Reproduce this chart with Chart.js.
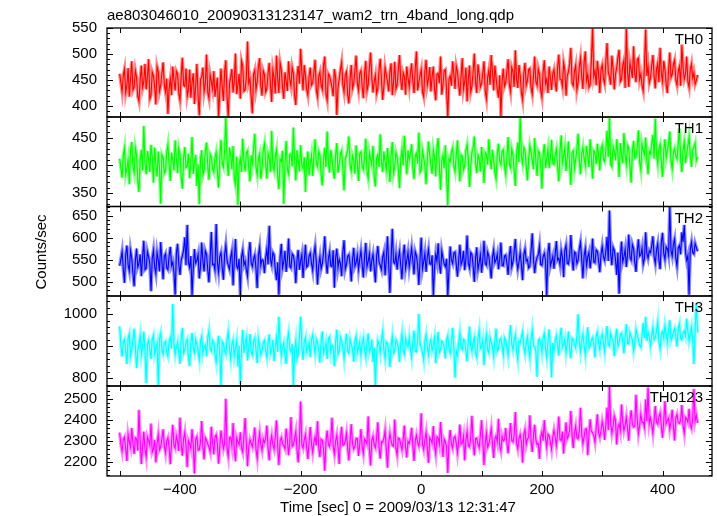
<!DOCTYPE html>
<html>
<head>
<meta charset="utf-8">
<script src="https://cdn.jsdelivr.net/npm/chart.js@4.4.1/dist/chart.umd.min.js"></script>
<style>
html, body { margin: 0; padding: 0; background: #fff; }
#wrap { position: relative; width: 717px; height: 516px; }
#wrap canvas { position: absolute; left: 0; top: 0; }
</style>
</head>
<body>
<div id="wrap">
<canvas id="c0" width="717" height="516"></canvas>
<canvas id="c1" width="717" height="516"></canvas>
<canvas id="c2" width="717" height="516"></canvas>
<canvas id="c3" width="717" height="516"></canvas>
<canvas id="c4" width="717" height="516"></canvas>
</div>
<script>
// time bins (sec from 2009/03/13 12:31:47)
const binStart = -500;
const binWidth = 2;

// count rates, one row = 40 bins (80 s)
const th0 = [
  462,445,428,459,471,426,440,473,418,452,486,431,437,468,455,419,409,450,478,436,447,481,432,457,490,414,421,465,458,437,403,476,466,428,439,462,484,441,427,453,
  385,434,452,421,476,449,430,467,462,425,411,458,493,440,438,472,419,431,470,416,445,463,404,439,481,420,382,451,456,474,428,443,499,426,415,460,447,433,467,418,
  436,455,381,428,472,437,410,466,488,419,379,442,455,471,426,448,501,423,440,462,414,487,478,429,431,456,524,444,452,418,386,461,469,432,447,475,492,439,420,468,
  461,427,433,462,483,441,408,469,455,424,497,452,425,483,470,436,414,465,448,429,486,451,439,474,463,420,402,458,477,443,510,466,430,479,458,432,421,456,474,440,
  444,466,489,431,418,457,465,440,432,478,495,423,411,462,458,447,436,419,471,455,383,436,452,470,484,441,427,460,466,422,405,451,479,434,443,468,497,445,430,463,
  468,439,415,462,487,430,441,473,503,454,426,447,459,424,434,469,491,451,412,437,474,460,448,428,466,482,421,445,485,433,440,471,498,449,431,464,457,422,476,455,
  437,463,482,448,425,471,505,430,446,459,470,427,418,467,489,440,452,475,428,456,476,433,411,461,463,444,495,422,441,468,470,429,380,452,458,439,486,461,433,477,
  466,441,420,458,492,433,447,474,409,452,478,427,438,466,501,445,425,480,461,437,443,463,486,429,414,455,469,441,498,467,430,478,455,432,416,459,381,446,472,438,
  445,468,490,442,428,474,466,437,507,451,435,479,459,426,412,463,483,440,449,470,472,436,423,458,495,447,440,471,461,430,417,465,488,443,452,425,476,455,431,462,
  470,446,428,473,499,452,451,438,483,469,420,458,466,482,512,444,439,467,478,431,445,475,492,457,433,484,505,449,461,436,441,488,549,457,468,440,487,462,425,471,
  479,452,443,486,521,465,456,441,497,472,432,461,474,493,508,447,451,478,488,435,548,466,437,483,470,454,515,462,446,489,492,451,462,440,429,476,547,458,476,444,
  453,478,498,459,434,471,482,446,512,463,447,487,470,442,425,469,503,455,461,480,488,450,440,467,476,439,518,474,452,461,495,447,436,470,481,454,464,442,449,460
];
const th1 = [
  412,395,378,418,431,384,395,409,366,427,442,398,387,431,419,372,352,410,428,391,471,403,384,426,410,388,437,415,369,432,401,380,425,397,331,419,414,386,390,424,
  437,401,372,423,409,391,445,412,386,430,420,379,358,414,433,396,398,421,377,408,451,385,405,419,363,402,330,411,427,383,392,425,441,399,374,420,415,394,388,413,
  423,389,360,414,446,403,397,426,486,410,381,432,418,393,435,378,365,416,329,401,412,388,448,407,389,422,426,395,371,418,404,429,457,397,383,412,420,376,395,428,
  439,405,376,421,413,388,462,399,391,417,428,380,357,411,407,426,331,402,444,393,385,419,421,398,468,409,373,427,410,389,436,401,394,415,352,408,425,382,403,418,
  381,416,447,404,398,425,419,383,364,410,432,397,461,405,387,428,413,391,376,418,440,387,402,421,426,394,355,412,418,429,452,400,390,417,409,385,436,403,372,422,
  424,398,393,416,448,389,377,422,411,401,435,380,362,413,419,397,456,408,388,425,406,392,431,404,370,419,442,386,397,423,415,394,359,411,428,400,453,415,384,427,
  410,421,438,396,375,417,422,403,459,388,392,426,414,399,366,412,443,420,401,385,427,414,380,432,449,398,356,409,418,395,436,381,328,412,407,424,431,399,389,418,
  445,403,371,419,416,392,399,427,437,410,361,396,424,431,452,405,386,418,412,389,433,406,368,423,420,401,447,414,393,428,409,387,376,420,439,408,402,425,428,397,
  384,414,451,402,396,429,419,391,363,420,441,406,486,417,404,432,427,398,373,411,435,424,410,393,449,407,381,426,422,401,358,419,438,395,413,428,395,412,446,404,
  402,419,429,398,371,426,454,405,417,431,390,414,443,400,365,423,426,395,411,429,457,408,384,420,432,412,400,435,418,397,447,413,376,426,423,402,439,418,391,430,
  436,411,407,428,462,415,487,402,398,433,425,409,447,421,379,440,419,404,458,417,402,436,431,398,369,426,444,413,415,432,463,406,392,438,427,419,450,410,384,425,
  421,437,455,412,484,420,403,431,438,405,379,426,447,414,426,441,461,408,394,423,430,417,412,439,466,410,388,428,442,404,420,435,451,418,397,427,433,440,409,415
];
const th2 = [
  536,551,568,529,497,560,582,538,524,571,553,519,489,547,575,533,541,562,512,555,593,527,530,568,556,541,478,552,571,534,518,566,549,523,590,546,505,557,563,531,
  527,558,579,536,544,521,470,563,586,540,515,549,558,572,601,537,629,544,532,558,469,530,574,542,548,561,507,534,589,547,523,570,562,528,498,553,613,539,540,526,
  631,543,521,557,566,532,504,561,583,548,537,528,555,569,491,546,597,535,529,552,469,556,571,538,546,527,512,564,590,543,534,551,560,529,485,560,578,537,550,548,
  519,553,574,539,627,549,538,566,561,526,503,544,470,555,586,531,544,570,522,548,598,535,531,563,559,542,496,550,572,527,547,561,508,546,584,533,536,558,565,541,
  525,562,580,543,493,538,556,529,541,565,603,547,518,552,567,536,534,571,486,554,575,532,550,541,512,566,594,528,539,557,561,540,500,549,577,535,543,560,528,551,
  570,540,509,556,588,534,546,563,523,549,562,531,498,558,581,544,537,527,556,567,514,550,603,539,474,552,620,545,541,562,527,553,569,536,505,559,584,530,548,566,
  533,555,576,547,516,568,559,538,492,551,600,529,545,564,522,556,573,541,539,560,469,533,562,546,587,538,518,569,553,540,534,552,468,527,580,548,541,565,567,539,
  511,548,584,539,547,570,526,551,605,542,531,566,562,536,499,553,578,528,543,561,520,549,593,541,537,567,558,534,507,555,572,543,549,562,528,551,589,537,536,558,
  560,542,515,559,581,533,544,567,597,550,528,545,566,538,503,562,574,547,550,531,534,569,610,552,519,544,555,561,581,539,537,556,564,548,469,566,588,535,546,557,
  529,563,592,549,553,538,571,556,510,571,583,542,540,560,606,553,525,567,565,541,548,574,589,550,507,559,575,537,556,566,530,555,598,545,543,572,569,548,521,561,
  580,556,548,569,602,547,662,563,537,578,571,550,515,566,472,552,591,545,556,573,533,561,607,555,549,584,575,543,522,567,596,558,561,576,540,552,612,564,553,570,
  566,581,603,557,541,572,586,549,528,588,611,564,550,579,575,560,670,571,558,585,597,553,535,576,582,562,612,590,629,568,548,559,470,574,590,566,563,587,578,569
];
const th3 = [
  962,903,868,912,921,887,845,926,938,870,889,917,955,898,832,885,907,933,874,901,946,882,785,907,918,891,861,922,934,876,893,909,778,924,940,889,876,911,915,880,
  869,915,928,893,1032,906,874,897,913,881,846,925,957,879,890,913,921,868,838,910,942,895,880,921,906,884,859,916,931,878,897,904,869,927,948,892,885,918,912,874,
  851,898,933,876,779,914,908,885,875,922,944,893,862,906,919,871,896,918,837,902,781,889,951,880,910,927,856,897,938,882,873,915,925,890,848,923,903,874,887,911,
  918,886,866,909,937,878,889,920,854,900,928,883,992,912,871,896,910,873,845,919,941,894,882,906,779,888,916,861,873,925,993,899,858,914,927,882,894,910,866,921,
  935,904,877,921,912,887,849,916,946,879,893,910,861,924,929,883,904,899,838,914,952,876,886,928,917,895,863,908,939,885,879,922,905,890,852,917,931,880,896,913,
  873,907,925,889,868,912,940,882,893,921,850,896,778,878,917,905,881,919,944,887,862,913,909,884,835,902,930,879,887,920,912,895,851,910,938,886,875,924,904,898,
  927,892,866,915,949,884,883,923,1001,906,895,881,858,918,936,898,874,909,920,888,905,926,847,903,944,880,889,916,913,895,862,921,933,889,878,911,958,893,802,887,
  872,910,941,895,890,921,918,885,853,917,962,900,884,913,927,879,866,924,949,893,897,918,841,906,936,889,880,927,912,898,869,915,955,884,892,920,925,902,874,926,
  918,895,871,924,966,907,889,919,935,883,858,916,911,928,945,896,877,912,929,889,864,921,950,902,898,884,805,918,923,909,882,927,940,893,867,914,953,898,803,910,
  887,916,932,903,871,929,958,897,905,922,880,911,946,890,863,925,921,906,896,930,1000,913,884,919,937,901,873,926,959,895,902,918,926,907,865,932,944,910,891,924,
  938,912,884,931,963,905,901,939,927,918,869,926,955,901,912,935,940,914,878,929,969,909,908,942,931,920,886,911,952,936,920,904,897,933,973,925,992,917,943,928,
  902,934,958,921,927,949,975,915,893,938,946,927,964,940,912,952,981,919,930,945,955,931,899,956,970,924,921,941,948,933,986,947,917,938,959,920,845,952,1035,943
];
const th0123 = [
  2340,2282,2251,2307,2318,2263,2205,2329,2296,2271,2362,2289,2238,2315,2311,2254,2448,2298,2190,2276,2345,2261,2224,2318,2302,2279,2383,2247,2261,2305,2198,2288,2330,2258,2270,2311,2356,2277,2243,2300,
  2315,2269,2189,2296,2377,2280,2266,2322,2298,2253,2412,2284,2230,2310,2341,2275,2175,2301,2287,2264,2356,2278,2145,2309,2320,2257,2258,2297,2395,2273,2212,2315,2304,2286,2271,2249,2368,2293,2236,2318,
  2329,2285,2192,2271,2350,2303,2264,2290,2501,2262,2226,2316,2318,2279,2385,2258,2203,2314,2295,2283,2341,2267,2247,2325,2409,2291,2180,2270,2306,2289,2272,2312,2364,2260,2219,2297,2337,2281,2255,2308,
  2292,2310,2373,2266,2208,2294,2325,2281,2261,2319,2398,2272,2185,2301,2316,2287,2277,2263,2359,2306,2232,2292,2414,2275,2281,2313,2344,2259,2198,2298,2488,2284,2267,2305,2330,2270,2214,2297,2366,2286,
  2246,2293,2319,2278,2394,2267,2223,2308,2303,2262,2158,2295,2350,2283,2274,2312,2411,2276,2239,2300,2328,2269,2190,2316,2367,2280,2283,2299,2335,2265,2207,2306,2380,2288,2262,2273,2312,2311,2229,2285,
  2356,2274,2240,2309,2301,2286,2417,2263,2183,2304,2322,2280,2268,2317,2389,2269,2216,2296,2294,2311,2349,2258,2173,2290,2335,2302,2279,2275,2402,2266,2233,2313,2310,2281,2258,2306,2373,2270,2221,2298,
  2288,2312,2363,2279,2205,2301,2327,2292,2276,2318,2432,2283,2259,2307,2340,2268,2196,2315,2306,2289,2371,2276,2238,2320,2315,2284,2390,2295,2224,2309,2297,2271,2148,2298,2352,2285,2266,2314,2321,2290,
  2243,2297,2378,2284,2290,2321,2207,2305,2345,2278,2272,2316,2420,2293,2231,2311,2313,2285,2268,2327,2399,2300,2185,2290,2337,2270,2284,2318,2358,2287,2219,2309,2324,2296,2406,2275,2252,2322,2301,2306,
  2362,2291,2241,2318,2385,2302,2296,2327,2438,2289,2263,2311,2330,2296,2197,2330,2354,2283,2310,2316,2422,2299,2248,2324,2377,2305,2282,2288,2215,2320,2343,2301,2399,2314,2271,2332,2325,2295,2260,2317,
  2351,2319,2278,2336,2416,2308,2302,2345,2240,2322,2389,2311,2325,2352,2443,2329,2266,2340,2370,2316,2311,2347,2458,2333,2287,2320,2356,2358,2232,2331,2403,2344,2341,2325,2295,2362,2427,2338,2318,2350,
  2392,2361,2305,2377,2459,2352,2560,2386,2336,2370,2418,2398,2283,2364,2381,2349,2474,2391,2349,2375,2412,2358,2301,2395,2446,2380,2367,2369,2520,2402,2335,2373,2428,2387,2390,2365,2498,2394,2555,2381,
  2410,2378,2336,2401,2467,2389,2381,2415,2432,2372,2315,2396,2490,2383,2398,2409,2357,2392,2449,2368,2302,2410,2426,2387,2384,2399,2471,2375,2338,2412,2405,2390,2453,2377,2360,2404,2548,2395,2422,2386
];

const series = [th0, th1, th2, th3, th0123];
const panelNames = ['TH0', 'TH1', 'TH2', 'TH3', 'TH0123'];
const panelColors = ['255,0,0', '0,255,0', '0,0,255', '0,255,255', '255,0,255'];

// axis ranges and tick labels
const xTickLabels = [-400, -200, 0, 200, 400];
const yMin = [379, 326, 467, 776, 2133];
const yMax = [550, 487, 671, 1057, 2562];
const yMajor = [50, 50, 50, 100, 100];
const yMinor = [10, 10, 10, 20, 20];
const xMin = -521, xMax = 482;

// panel placement in the page (px)
const panelTop = [28, 117, 206.5, 296, 386];
const panelBottom = [117, 206.5, 296, 386, 476];
const plotLeft = 107, plotRight = 712;
const yAxisW = 60, xAxisH = 30;

const FONT = "'Liberation Sans', Arial, sans-serif";
Chart.defaults.font.family = FONT;
Chart.defaults.font.size = 15;
Chart.defaults.color = '#000';

const minus = v => String(v).replace('-', '\u2212');

const framePlugin = {
  id: 'frame',
  afterDraw(chart, args, opts) {
    const i = opts.panel;
    const {ctx, chartArea: a, scales} = chart;
    ctx.save();
    ctx.strokeStyle = '#000';
    ctx.lineWidth = 1;
    ctx.beginPath();
    for (let v = -500; v <= 400; v += 100) {
      const px = Math.round(scales.x.getPixelForValue(v)) + 0.5;
      ctx.moveTo(px, a.top); ctx.lineTo(px, a.top + 5);
      ctx.moveTo(px, a.bottom); ctx.lineTo(px, a.bottom - 5);
    }
    const start = Math.ceil(yMin[i] / yMinor[i]) * yMinor[i];
    for (let v = start; v <= yMax[i]; v += yMinor[i]) {
      const len = v % yMajor[i] === 0 ? 6 : 3;
      const py = Math.round(scales.y.getPixelForValue(v)) + 0.5;
      ctx.moveTo(a.left, py); ctx.lineTo(a.left + len, py);
      ctx.moveTo(a.right, py); ctx.lineTo(a.right - len, py);
    }
    ctx.stroke();
    ctx.lineWidth = 1.3;
    ctx.strokeRect(a.left, a.top, a.right - a.left, a.bottom - a.top);

    ctx.fillStyle = '#000';
    ctx.font = '15px ' + FONT;
    ctx.textAlign = 'right';
    ctx.textBaseline = 'alphabetic';
    ctx.fillText(panelNames[i], 703, a.top + 16);

    if (opts.texts) {
      ctx.textAlign = 'left';
      ctx.fillText('ae803046010_20090313123147_wam2_trn_4band_long.qdp', 107, 20);
      ctx.textAlign = 'center';
      ctx.fillText('Time [sec] 0 = 2009/03/13 12:31:47', 398, 512);
      ctx.translate(46, 252);
      ctx.rotate(-Math.PI / 2);
      ctx.fillText('Counts/sec', 0, 0);
    }
    ctx.restore();
  }
};

series.forEach((vals, i) => {
  const pts = vals.map((v, k) => ({x: binStart + k * binWidth, y: v}));
  const bottom = i === series.length - 1;
  new Chart(document.getElementById('c' + i), {
    type: 'line',
    data: {
      datasets: [
        {data: pts, borderColor: 'rgb(' + panelColors[i] + ')', borderWidth: 1.1, pointRadius: 0, tension: 0},
        {data: pts, borderColor: 'rgba(' + panelColors[i] + ',0.45)', borderWidth: 3.5, pointRadius: 0, tension: 0}
      ]
    },
    options: {
      responsive: false,
      animation: false,
      devicePixelRatio: 1,
      events: [],
      layout: {padding: {
        left: plotLeft - yAxisW, right: 717 - plotRight,
        top: panelTop[i], bottom: 516 - panelBottom[i] - (bottom ? xAxisH : 0)
      }},
      plugins: {legend: {display: false}, tooltip: {enabled: false}, frame: {panel: i, texts: bottom}},
      scales: {
        x: {
          type: 'linear', min: xMin, max: xMax,
          display: bottom,
          grid: {display: false, drawTicks: false}, border: {display: false},
          ticks: {padding: 5, maxRotation: 0, autoSkip: false, callback: v => minus(v)},
          afterBuildTicks: s => { s.ticks = xTickLabels.map(v => ({value: v})); },
          afterFit: s => { s.height = bottom ? xAxisH : 0; s.paddingLeft = 0; s.paddingRight = 0; }
        },
        y: {
          type: 'linear', min: yMin[i], max: yMax[i],
          grid: {display: false, drawTicks: false}, border: {display: false},
          ticks: {padding: 10, autoSkip: false, callback: v => String(v)},
          afterBuildTicks: s => {
            const t = [];
            for (let v = Math.ceil(yMin[i] / yMajor[i]) * yMajor[i]; v <= yMax[i]; v += yMajor[i]) t.push({value: v});
            s.ticks = t;
          },
          afterFit: s => { s.width = yAxisW; s.paddingTop = 0; s.paddingBottom = 0; }
        }
      }
    },
    plugins: [framePlugin]
  });
});
</script>
</body>
</html>
